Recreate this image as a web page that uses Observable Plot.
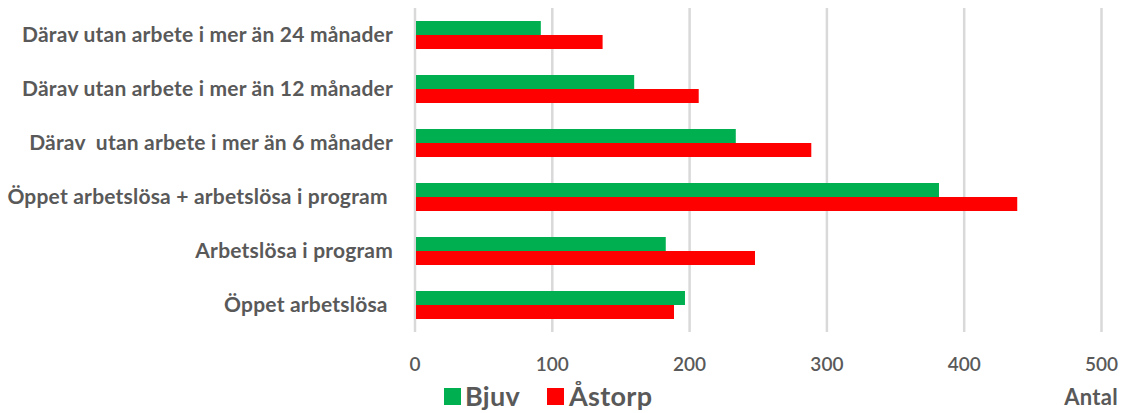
<!DOCTYPE html>
<html>
<head>
<meta charset="utf-8">
<script src="https://cdn.jsdelivr.net/npm/d3@7"></script>
<script src="https://cdn.jsdelivr.net/npm/@observablehq/plot@0.6"></script>
<style>
  html, body { margin: 0; padding: 0; background: #fff; }
  body { width: 1128px; height: 413px; overflow: hidden; font-family: Lato, "Open Sans", sans-serif; color: #595959; }
  #chart svg { display: block; font-family: Lato, "Open Sans", sans-serif; }
  #chart svg text { white-space: pre; }
  #chart g[aria-label^="y-axis"] text { font-size: 21px; font-weight: 700; letter-spacing: 0.2px; }
  #chart g[aria-label^="x-axis"] text { font-size: 19px; font-weight: 600; }
  #legend { position: relative; height: 38px; }
  .sw { position: absolute; top: 13px; width: 17px; height: 17px; }
  .lt { position: absolute; top: 2px; font-size: 27px; font-weight: 700; line-height: 38px; letter-spacing: 0.3px; }
  .ax { position: absolute; top: 3px; right: 10px; font-size: 22px; font-weight: 700; line-height: 38px; letter-spacing: 0.3px; }
</style>
</head>
<body>
<div id="chart"></div>
<div id="legend"></div>
<script>
const categories = [
  "Därav utan arbete i mer än 24 månader",
  "Därav utan arbete i mer än 12 månader",
  "Därav  utan arbete i mer än 6 månader",
  "Öppet arbetslösa + arbetslösa i program ",
  "Arbetslösa i program",
  "Öppet arbetslösa "
];
const seriesNames = ["Bjuv", "Åstorp"];
const bjuv = [92, 160, 234, 382, 183, 197];
const astorp = [137, 207, 289, 439, 248, 189];
const xTicks = [0, 100, 200, 300, 400, 500];
const axisTitle = "Antal";
const colors = ["#00B050", "#FF0000"];

const bjuvData = categories.map((c, i) => ({category: c, value: bjuv[i]}));
const astorpData = categories.map((c, i) => ({category: c, value: astorp[i]}));

const plot = Plot.plot({
  width: 1128,
  height: 375,
  marginLeft: 414.5,
  marginRight: 27,
  marginTop: 8,
  marginBottom: 43,
  style: {color: "#595959", background: "#fff"},
  x: {domain: [0, 500], ticks: xTicks, tickSize: 0, tickPadding: 25, label: null},
  y: {domain: categories, paddingInner: 40/54, paddingOuter: 20/54, tickSize: 0, tickPadding: 22, label: null},
  marks: [
    Plot.ruleX(xTicks, {stroke: "#d9d9d9", strokeWidth: 2.5}),
    Plot.barX(bjuvData, {x: "value", y: "category", fill: colors[0], dy: -7, insetLeft: 1.5}),
    Plot.barX(astorpData, {x: "value", y: "category", fill: colors[1], dy: 7, insetLeft: 1.5})
  ]
});
document.getElementById("chart").appendChild(plot);

const legend = document.getElementById("legend");
const positions = [{box: 444, text: 465}, {box: 547, text: 569}];
seriesNames.forEach((name, i) => {
  const sw = document.createElement("span");
  sw.className = "sw";
  sw.style.left = positions[i].box + "px";
  sw.style.background = colors[i];
  legend.appendChild(sw);
  const t = document.createElement("span");
  t.className = "lt";
  t.style.left = positions[i].text + "px";
  t.textContent = name;
  legend.appendChild(t);
});
const ax = document.createElement("span");
ax.className = "ax";
ax.textContent = axisTitle;
legend.appendChild(ax);
</script>
</body>
</html>
